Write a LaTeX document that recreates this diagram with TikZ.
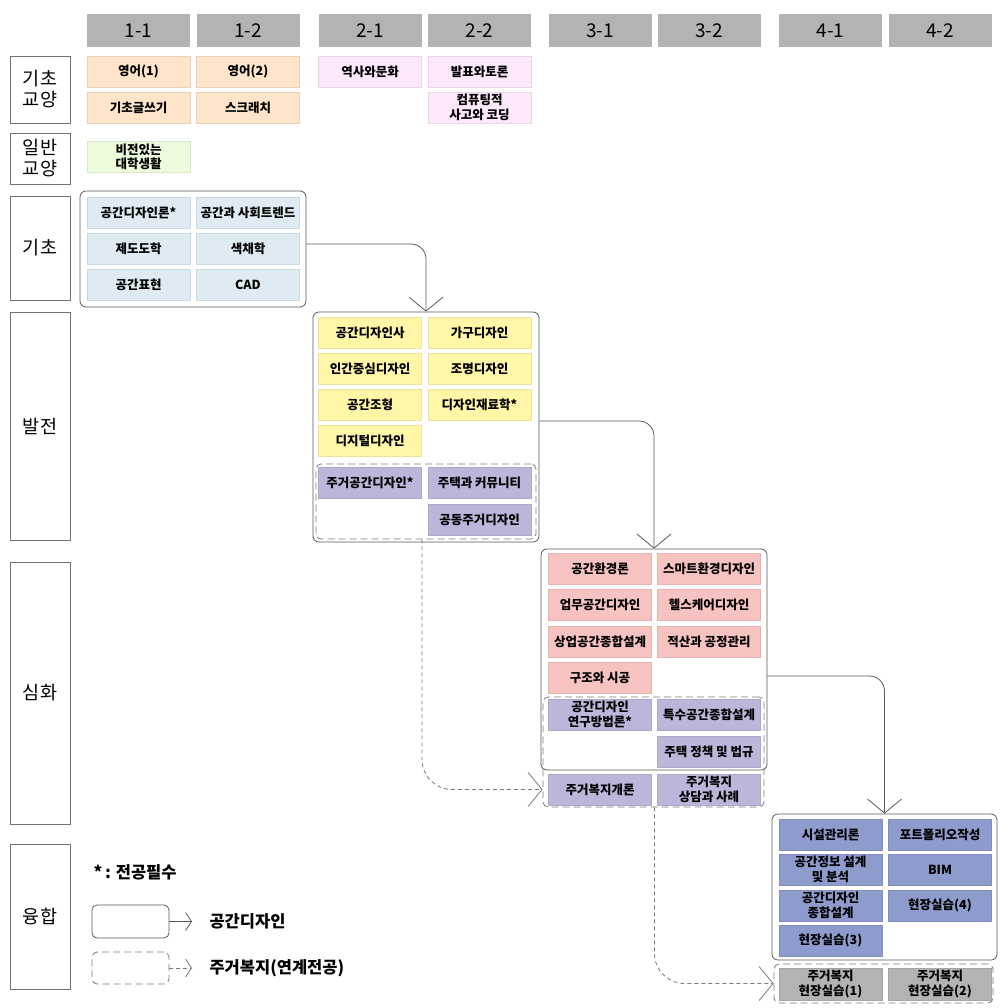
\documentclass[tikz,border=0pt]{standalone}
\usepackage{fontspec}
\setmainfont{Noto Sans CJK KR}
\usetikzlibrary{arrows.meta}
\definecolor{hdrgray}{HTML}{B3B3B3}
\definecolor{peach}{HTML}{FEE5C9}
\definecolor{lpink}{HTML}{FDE8FB}
\definecolor{lgreen}{HTML}{EDFBDD}
\definecolor{lblue}{HTML}{DEEBF2}
\definecolor{lyellow}{HTML}{FFF6A8}
\definecolor{lpurple}{HTML}{BDB6DA}
\definecolor{salmon}{HTML}{F6C3C1}
\definecolor{mblue}{HTML}{8D9BCD}
\definecolor{mgray}{HTML}{B3B3B3}
\definecolor{linegray}{HTML}{595959}

\tikzset{
  hdr/.style={fill=hdrgray, minimum width=103pt, minimum height=33pt, inner sep=0pt, font=\fontsize{19}{21}\selectfont},
  lev/.style={draw=black!55, line width=0.8pt, minimum width=60pt, inner sep=0pt, align=center, font=\fontsize{18.5}{21}\selectfont},
  crs/.style={fill=#1, draw=#1!92!black, line width=0.4pt, minimum width=103pt, minimum height=31pt, inner sep=0pt, align=center, font=\bfseries\fontsize{12.5}{14.5}\selectfont},
  grp/.style={draw=linegray, line width=0.8pt, rounded corners=6pt, inner sep=0pt},
  dgrp/.style={draw=linegray!80, line width=0.8pt, dash pattern=on 7pt off 4pt, rounded corners=5pt, inner sep=0pt},
  conn/.style={draw=linegray, line width=0.8pt, rounded corners=15pt, -{Straight Barb[length=14pt,width=34pt]}},
  dconn/.style={conn, draw=linegray!80, dash pattern=on 4pt off 3pt, rounded corners=30pt},
  lconn/.style={draw=linegray, line width=0.8pt, -{Straight Barb[length=6pt,width=18pt]}},
  legtext/.style={anchor=west, font=\bfseries\fontsize{16.5}{18}\selectfont},
}

\begin{document}
\begin{tikzpicture}[x=1pt, y=-1pt]
		\useasboundingbox (0,0) rectangle (1008,1008);
		% semester headers
		\node[hdr] (h11) at (138.5, 30.5) {1-1};
		\node[hdr] (h12) at (248, 30.5) {1-2};
		\node[hdr] (h21) at (370, 30.5) {2-1};
		\node[hdr] (h22) at (479.5, 30.5) {2-2};
		\node[hdr] (h31) at (600, 30.5) {3-1};
		\node[hdr] (h32) at (709, 30.5) {3-2};
		\node[hdr] (h41) at (830.5, 30.5) {4-1};
		\node[hdr] (h42) at (940, 30.5) {4-2};
		% levels
		\node[lev, minimum height=67pt] (l1) at (40, 89.5) {기초\\교양};
		\node[lev, minimum height=51pt] (l2) at (40, 158.5) {일반\\교양};
		\node[lev, minimum height=104pt] (l3) at (40, 248) {기초};
		\node[lev, minimum height=228pt] (l4) at (40, 426) {발전};
		\node[lev, minimum height=262pt] (l5) at (40, 693) {심화};
		\node[lev, minimum height=145pt] (l6) at (40, 916.5) {융합};
		% groups
		\node[grp, minimum width=226pt, minimum height=116pt] (gKicho) at (193, 249) {};
		\node[grp, minimum width=226pt, minimum height=230pt] (gBaljeon) at (426, 427) {};
		\node[dgrp, minimum width=220pt, minimum height=75pt] (dBaljeon) at (426, 501.5) {};
		\node[grp, minimum width=226pt, minimum height=221pt] (gSimhwa) at (654, 659.5) {};
		\node[dgrp, minimum width=221pt, minimum height=110pt] (dSimhwa) at (653.5, 752) {};
		\node[grp, minimum width=225pt, minimum height=146pt] (gYunghap) at (884.5, 887) {};
		\node[dgrp, minimum width=219pt, minimum height=39pt] (dYunghap) at (883.5, 983.5) {};
		% liberal arts
		\node[crs=peach] (k11) at (138.5, 72) {영어(1)};
		\node[crs=peach] (k12) at (248, 72) {영어(2)};
		\node[crs=lpink] (k13) at (370, 72) {역사와문화};
		\node[crs=lpink] (k14) at (479.5, 72) {발표와토론};
		\node[crs=peach] (k21) at (138.5, 107.5) {기초글쓰기};
		\node[crs=peach] (k22) at (248, 107.5) {스크래치};
		\node[crs=lpink] (k24) at (479.5, 107.5) {컴퓨팅적\\사고와 코딩};
		\node[crs=lgreen] (i11) at (138.5, 157) {비전있는\\대학생활};
		% basic
		\node[crs=lblue] (b1) at (138.5, 212.5) {공간디자인론*};
		\node[crs=lblue] (b2) at (248, 212.5) {공간과 사회트렌드};
		\node[crs=lblue] (b3) at (138.5, 248.5) {제도도학};
		\node[crs=lblue] (b4) at (248, 248.5) {색채학};
		\node[crs=lblue] (b5) at (138.5, 284.5) {공간표현};
		\node[crs=lblue] (b6) at (248, 284.5) {CAD};
		% development
		\node[crs=lyellow] (d1) at (370, 332.5) {공간디자인사};
		\node[crs=lyellow] (d2) at (479.5, 332.5) {가구디자인};
		\node[crs=lyellow] (d3) at (370, 368.5) {인간중심디자인};
		\node[crs=lyellow] (d4) at (479.5, 368.5) {조명디자인};
		\node[crs=lyellow] (d5) at (370, 404.5) {공간조형};
		\node[crs=lyellow] (d6) at (479.5, 404.5) {디자인재료학*};
		\node[crs=lyellow] (d7) at (370, 440.5) {디지털디자인};
		\node[crs=lpurple] (d8) at (370, 482.5) {주거공간디자인*};
		\node[crs=lpurple] (d9) at (479.5, 482.5) {주택과 커뮤니티};
		\node[crs=lpurple] (d10) at (479.5, 520) {공동주거디자인};
		% advanced
		\node[crs=salmon] (s1) at (600, 568.5) {공간환경론};
		\node[crs=salmon] (s2) at (709, 568.5) {스마트환경디자인};
		\node[crs=salmon] (s3) at (600, 605) {업무공간디자인};
		\node[crs=salmon] (s4) at (709, 605) {헬스케어디자인};
		\node[crs=salmon] (s5) at (600, 641.5) {상업공간종합설계};
		\node[crs=salmon] (s6) at (709, 641.5) {적산과 공정관리};
		\node[crs=salmon] (s7) at (600, 677.5) {구조와 시공};
		\node[crs=lpurple] (s8) at (600, 714.5) {공간디자인\\연구방법론*};
		\node[crs=lpurple] (s9) at (709, 715) {특수공간종합설계};
		\node[crs=lpurple] (s10) at (709, 752) {주택 정책 및 법규};
		\node[crs=lpurple] (s11) at (600, 789.5) {주거복지개론};
		\node[crs=lpurple] (s12) at (709, 789.5) {주거복지\\상담과 사례};
		% convergence
		\node[crs=mblue] (y1) at (830.5, 834.5) {시설관리론};
		\node[crs=mblue] (y2) at (940, 834.5) {포트폴리오작성};
		\node[crs=mblue] (y3) at (830.5, 869.5) {공간정보 설계\\및 분석};
		\node[crs=mblue] (y4) at (940, 869.5) {BIM};
		\node[crs=mblue] (y5) at (830.5, 905.5) {공간디자인\\종합설계};
		\node[crs=mblue] (y6) at (940, 905.5) {현장실습(4)};
		\node[crs=mblue] (y7) at (830.5, 940.5) {현장실습(3)};
		\node[crs=mgray, minimum height=32pt] (y8) at (830.5, 984) {주거복지\\현장실습(1)};
		\node[crs=mgray, minimum height=32pt] (y9) at (940, 984) {주거복지\\현장실습(2)};
		% flow
		\draw[conn] ([yshift=5pt]gKicho.east) -| (gBaljeon.north);
		\draw[conn] ([yshift=6pt]gBaljeon.east) -| (gSimhwa.north);
		\draw[conn] ([yshift=-16.5pt]gSimhwa.east) -| (gYunghap.north);
		\draw[dconn] ([xshift=-4pt]dBaljeon.south) |- (dSimhwa.west |- s11.west);
		\draw[dconn] ([xshift=1pt]dSimhwa.south) |- (dYunghap.west);
		% legend
		\node[legtext] (lstar) at (90, 872) {*\,: 전공필수};
		\node[grp, rounded corners=5pt, minimum width=77pt, minimum height=33pt] (lg1) at (130.5, 921.5) {};
		\node[dgrp, minimum width=77pt, minimum height=32pt] (lg2) at (130.5, 968) {};
		\coordinate (la1) at (192, 921.5);
		\coordinate (la2) at (192, 968);
		\draw[lconn] (lg1.east) -- (la1);
		\draw[lconn, draw=linegray!80, dash pattern=on 4pt off 3pt] (lg2.east) -- (la2);
		\node[legtext] (lt1) at (206, 921.5) {공간디자인};
		\node[legtext] (lt2) at (206, 968) {주거복지(연계전공)};
\end{tikzpicture}
\end{document}
